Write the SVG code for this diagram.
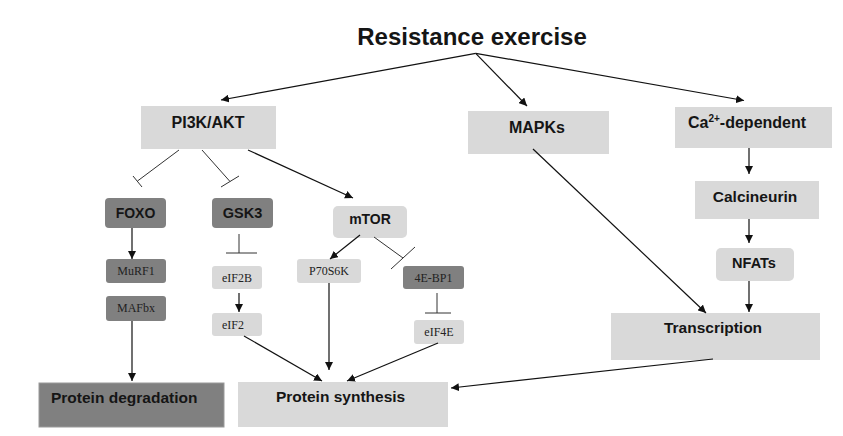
<svg xmlns="http://www.w3.org/2000/svg" width="843" height="436" viewBox="0 0 843 436">
<defs>
<marker id="ah" viewBox="0 0 10 10" refX="10" refY="5" markerWidth="8" markerHeight="8" markerUnits="userSpaceOnUse" orient="auto">
<path d="M0,0 L10,5 L0,10 Z" fill="#111"/>
</marker>
</defs>
<style>
.light{fill:#d9d9d9}
.dark{fill:#808080}
.b{font-family:"Liberation Sans",Arial,sans-serif;font-weight:bold;fill:#151515}
.s{font-family:"Liberation Serif","Times New Roman",serif;font-size:12px;fill:#222}
.c{text-anchor:middle}
.ln{stroke:#111;stroke-width:1.2;fill:none}
.arr{stroke:#111;stroke-width:1.2;fill:none;marker-end:url(#ah)}
.inh{stroke:#333;stroke-width:1;fill:none}
</style>
<rect width="843" height="436" fill="#fff"/>
<g id="title"><text class="b c" x="472" y="45" font-size="24">Resistance exercise</text></g>
<g id="pi3k"><rect class="light" x="141" y="106" width="135" height="43"/><text class="b c" x="208" y="128" font-size="16">PI3K/AKT</text></g>
<g id="mapks"><rect class="light" x="468" y="111" width="141" height="43"/><text class="b c" x="537" y="133" font-size="16">MAPKs</text></g>
<g id="ca"><rect class="light" x="675" y="107" width="157" height="41"/><text class="b" x="688" y="128" font-size="16">Ca<tspan font-size="10" dy="-6">2+</tspan><tspan dy="6">-dependent</tspan></text></g>
<g id="calcineurin"><rect class="light" x="695" y="181" width="124" height="38"/><text class="b c" x="755" y="202" font-size="15.5">Calcineurin</text></g>
<g id="nfats"><rect class="light" x="716" y="248" width="78" height="33" rx="5"/><text class="b c" x="754" y="268" font-size="14.5">NFATs</text></g>
<g id="transcription"><rect class="light" x="611" y="313" width="209" height="47"/><text class="b c" x="713" y="333" font-size="15.5">Transcription</text></g>
<g id="foxo"><rect class="dark" x="105" y="198" width="61" height="30" rx="4"/><text class="b c" x="135.5" y="218" font-size="14">FOXO</text></g>
<g id="gsk3"><rect class="dark" x="212" y="198" width="61" height="30" rx="4"/><text class="b c" x="242.5" y="218" font-size="14.5">GSK3</text></g>
<g id="mtor"><rect class="light" x="333" y="206" width="74" height="32" rx="5"/><text class="b c" x="370" y="224" font-size="14">mTOR</text></g>
<g id="murf1"><rect class="dark" x="106" y="259" width="60" height="24" rx="3"/><text class="s c" x="136" y="275">MuRF1</text></g>
<g id="mafbx"><rect class="dark" x="106" y="296" width="60" height="25" rx="3"/><text class="s c" x="136" y="312">MAFbx</text></g>
<g id="eif2b"><rect class="light" x="212" y="266" width="50" height="23" rx="3"/><text class="s c" x="237" y="282">eIF2B</text></g>
<g id="eif2"><rect class="light" x="212" y="313" width="50" height="23" rx="3"/><text class="s" x="222" y="329">eIF2</text></g>
<g id="p70s6k"><rect class="light" x="297" y="259" width="64" height="24" rx="3"/><text class="s c" x="329" y="275">P70S6K</text></g>
<g id="ebp1"><rect class="dark" x="403" y="266" width="61" height="23" rx="3"/><text class="s c" x="433.5" y="282">4E-BP1</text></g>
<g id="eif4e"><rect class="light" x="414" y="320" width="50" height="24" rx="3"/><text class="s c" x="439" y="336">eIF4E</text></g>
<g id="degradation"><rect class="dark" x="39" y="383" width="185" height="44" stroke="#9a9a9a" stroke-width="1"/><text class="b" x="51" y="403" font-size="15.5">Protein degradation</text></g>
<g id="synthesis"><rect class="light" x="238" y="382" width="210" height="45"/><text class="b" x="276" y="402" font-size="15.5">Protein synthesis</text></g>
<g id="connectors">
<path class="arr" d="M475.7,53.3 L221,100"/>
<path class="arr" d="M475.7,53.3 L527,106"/>
<path class="arr" d="M475.7,53.3 L744,100.5"/>
<path class="inh" d="M179,150 L137.5,181 M133,176 L142,187"/>
<path class="inh" d="M202,150 L230,181.5 M221,187 L239,176"/>
<path class="arr" d="M248,150 L353,198"/>
<path class="arr" d="M132,228 L132,259"/>
<path class="arr" d="M132,321 L132,381"/>
<path class="inh" d="M239,234 L239,253 M226,253 L257,253"/>
<path class="arr" d="M239,293 L239,312"/>
<path class="arr" d="M360,235 L330,259"/>
<path class="inh" d="M374,237 L403,258 M391,269 L415,247"/>
<path class="inh" d="M437,293 L437,313 M425,313 L451,313"/>
<path class="arr" d="M244,336 L322,381"/>
<path class="arr" d="M329,283 L329,370"/>
<path class="arr" d="M438,343 L347,381"/>
<path class="arr" d="M533,149 L706,313"/>
<path class="arr" d="M749,148 L749,174"/>
<path class="arr" d="M749,219 L749,243"/>
<path class="arr" d="M749,281 L749,312"/>
<path class="arr" d="M713,359 L451,388"/>
</g>
</svg>
